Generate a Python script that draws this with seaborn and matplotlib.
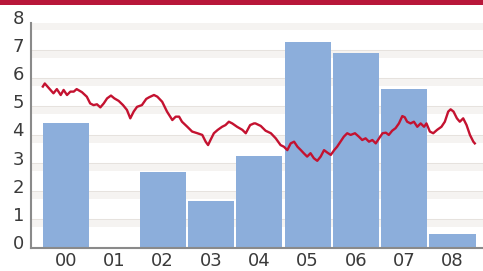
import matplotlib
matplotlib.use("Agg")
import matplotlib.pyplot as plt
import matplotlib.transforms as mtransforms
from matplotlib.patches import Rectangle
import seaborn as sns
import pandas as pd

# Bar data (annual values)
years = ["00", "01", "02", "03", "04", "05", "06", "07", "08"]
bar_values = [4.43, 0.0, 2.71, 1.66, 3.28, 7.31, 6.92, 5.65, 0.51]

# Line data: time in years since start of 2000, and values
line_time = [0.02, 0.06, 0.24, 0.31, 0.39, 0.45, 0.52, 0.59, 0.66, 0.72, 0.83, 0.93,
             1.00, 1.07, 1.14, 1.21, 1.28, 1.35, 1.43, 1.50, 1.59, 1.68, 1.76, 1.83,
             1.90, 1.97, 2.07, 2.16, 2.22, 2.32, 2.39, 2.49, 2.59, 2.70, 2.77, 2.84,
             2.90, 3.01, 3.11, 3.22, 3.32, 3.39, 3.44, 3.49, 3.56, 3.64, 3.73, 3.80,
             3.87, 3.94, 4.04, 4.15, 4.22, 4.31, 4.39, 4.42, 4.53, 4.63, 4.74, 4.84,
             4.94, 5.01, 5.08, 5.15, 5.22, 5.29, 5.36, 5.42, 5.49, 5.56, 5.63, 5.70,
             5.77, 5.84, 5.91, 5.98, 6.05, 6.11, 6.18, 6.25, 6.32, 6.39, 6.48, 6.56,
             6.63, 6.70, 6.77, 6.84, 6.91, 6.98, 7.05, 7.12, 7.18, 7.25, 7.32, 7.39,
             7.46, 7.51, 7.56, 7.63, 7.70, 7.77, 7.84, 7.91, 7.96, 8.03, 8.10, 8.18,
             8.27, 8.34, 8.41, 8.46, 8.52, 8.59, 8.65, 8.72, 8.79, 8.86, 8.93, 8.96]
line_values = [5.74, 5.85, 5.50, 5.65, 5.44, 5.62, 5.44, 5.56, 5.56, 5.65, 5.54, 5.38,
               5.14, 5.08, 5.11, 5.00, 5.14, 5.32, 5.42, 5.32, 5.23, 5.08, 4.91, 4.61,
               4.85, 5.02, 5.08, 5.30, 5.36, 5.44, 5.38, 5.20, 4.85, 4.55, 4.67, 4.67,
               4.49, 4.31, 4.14, 4.08, 4.02, 3.78, 3.66, 3.84, 4.08, 4.20, 4.31, 4.37,
               4.49, 4.43, 4.31, 4.20, 4.08, 4.37, 4.43, 4.43, 4.34, 4.17, 4.08, 3.90,
               3.66, 3.60, 3.48, 3.72, 3.78, 3.60, 3.48, 3.37, 3.25, 3.37, 3.19, 3.10,
               3.25, 3.48, 3.39, 3.31, 3.48, 3.60, 3.78, 3.96, 4.08, 4.02, 4.08, 3.96,
               3.84, 3.90, 3.78, 3.84, 3.72, 3.90, 4.08, 4.10, 4.02, 4.17, 4.26, 4.43,
               4.69, 4.65, 4.49, 4.43, 4.49, 4.31, 4.43, 4.31, 4.43, 4.14, 4.08, 4.20,
               4.31, 4.49, 4.85, 4.93, 4.85, 4.61, 4.49, 4.61, 4.37, 4.02, 3.78, 3.72]

y_ticks = [0, 1, 2, 3, 4, 5, 6, 7, 8]

W, H = 483, 271
fig = plt.figure(figsize=(W / 100, H / 100), dpi=100)
fig.patch.set_facecolor("white")

# red band at top
fig.patches.append(Rectangle((0, 1 - 5 / H), 1, 5 / H, transform=fig.transFigure,
                             facecolor="#b8173a", edgecolor="none", zorder=5))

ax = fig.add_axes([31 / W, 23 / H, (W - 31) / W, 225 / H])
ax.set_facecolor("white")

df = pd.DataFrame({"year": years, "value": bar_values})
sns.barplot(data=df, x="year", y="value", order=years, color="#8caedb",
            saturation=1, width=0.955, ax=ax, zorder=2)

# gridlines (soft bands)
for yv in y_ticks[1:]:
    ax.axhline(yv, color="#e6e2de", lw=2.2, zorder=0)
    ax.axhspan(yv - 0.25, yv, color="#f5f3f1", lw=0, zorder=0)

lt = [t - 0.5 for t in line_time]
ax.plot(lt, line_values, color="#c41230", lw=1.7, zorder=4, solid_joinstyle="round")

ax.set_xlim(-0.725, 8.63)
ax.set_ylim(0, 8)
ax.set_xlabel("")
ax.set_ylabel("")
ax.set_yticks(y_ticks)
ax.set_yticklabels([str(v) for v in y_ticks])
ax.tick_params(axis="both", length=0, labelsize=13, colors="#3a3a3a")
ax.tick_params(axis="y", pad=5)
ax.tick_params(axis="x", pad=3)
offset = mtransforms.ScaledTranslation(0, 6 / 100, fig.dpi_scale_trans)
for lab in ax.get_yticklabels():
    lab.set_transform(lab.get_transform() + offset)

for s in ["top", "right"]:
    ax.spines[s].set_visible(False)
ax.spines["left"].set_color("#8a8a8a")
ax.spines["bottom"].set_color("#8a8a8a")
ax.spines["left"].set_linewidth(1.5)
ax.spines["bottom"].set_linewidth(1.5)

fig.savefig("out.png", dpi=100)
